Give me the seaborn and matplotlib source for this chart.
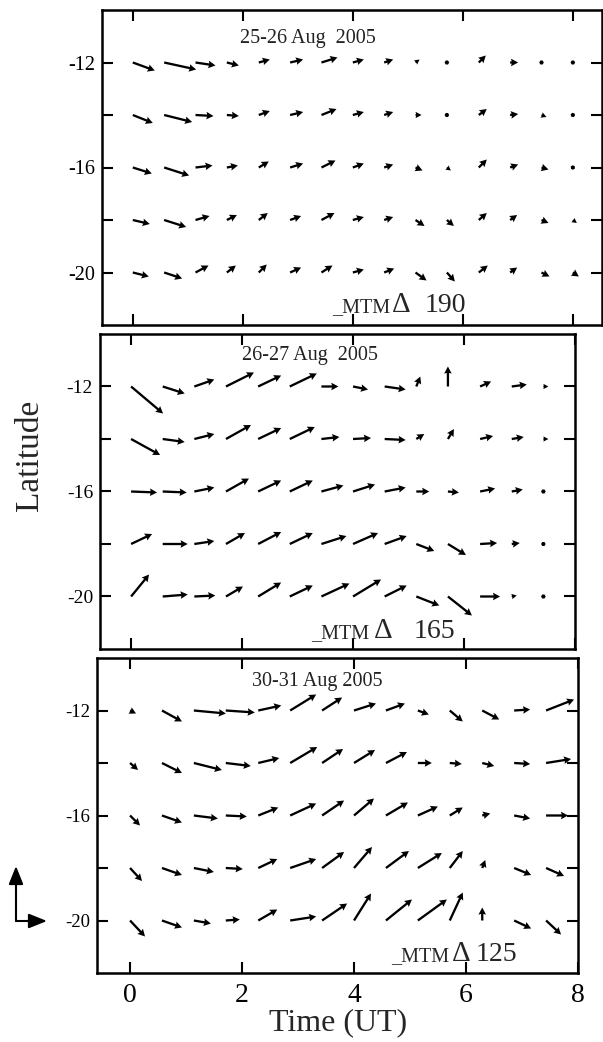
import matplotlib
matplotlib.use("Agg")
import matplotlib.pyplot as plt
from matplotlib.patches import FancyArrowPatch
import seaborn as sns
import numpy as np

sns.set_theme(style="ticks")
plt.rcParams["font.family"] = ["Liberation Serif", "DejaVu Serif"]

# Grid of latitudes (rows) and universal times (columns)
latitudes = [-12, -14, -16, -18, -20]
time_a = [0.0, 0.57, 1.14, 1.71, 2.29, 2.86, 3.43, 4.0, 4.57, 5.14, 5.71, 6.29, 6.86, 7.43, 8.0]
time_b = [0.0, 0.57, 1.14, 1.71, 2.29, 2.86, 3.43, 4.0, 4.57, 5.14, 5.71, 6.29, 6.86, 7.43]

# 25-26 Aug 2005: zonal (u) and meridional (v) components, one list per latitude
u_25 = [
    [22, 32, 20, 12, 11, 13, 16, 11, 9, 4, 1.5, 7, 8, 4, 3],
    [20, 28, 18, 12, 11, 13, 15, 11, 9, 6, 1, 8, 8, 5, 4],
    [19, 25, 17, 11, 10, 13, 14, 11, 9, 7, 4, 8, 8, 7, 4],
    [17, 22, 14, 10, 9, 11, 13, 11, 9, 9, 7, 8, 7, 7, 4],
    [16, 18, 13, 9, 8, 11, 11, 11, 10, 11, 8, 9, 7, 8, 6],
]
v_25 = [
    [-8, -7, -3, -3, 3, 3, 5, 3, 3, 3, 0, 7, 0, 0, 0],
    [-8, -7, -1, -1, 4, 3, 6, 3, 3, 0, 0, 6, 1, -2, -1],
    [-6, -8, 2, 2, 6, 4, 7, 4, 3, -3, -3, 8, 3, -2, -2],
    [-4, -7, 4, 5, 7, 4, 7, 3, 3, -6, -6, 7, 5, -3, -3],
    [-4, -6, 7, 7, 8, 5, 7, 3, 4, -8, -9, 7, 5, -4, -4],
]

# 26-27 Aug 2005
u_26 = [
    [32, 22, 20, 28, 23, 27, 17, 15, 21, 4, 0, 11, 15, 5],
    [29, 22, 20, 25, 23, 25, 18, 18, 21, 8, 6, 13, 12, 5],
    [26, 24, 20, 23, 23, 23, 22, 22, 21, 13, 11, 15, 11, 4],
    [21, 25, 20, 19, 23, 23, 25, 25, 22, 18, 18, 17, 8, 3],
    [18, 25, 21, 17, 23, 23, 28, 28, 22, 23, 24, 20, 5, 3],
]
v_26 = [
    [-27, -7, 7, 14, 11, 13, 0, -3, -3, 10, 20, 5, 2, 0],
    [-16, -3, 5, 14, 11, 12, 2, 1, -1, 5, 10, 3, 2, 0],
    [-1, -1, 4, 13, 11, 11, 6, 7, 4, 0, -1, 3, 2, 0],
    [10, 0, 3, 11, 12, 11, 8, 11, 8, -7, -11, 1, 1, 0],
    [22, 2, 1, 10, 14, 11, 13, 17, 11, -9, -19, 0, 1, 0],
]

# 30-31 Aug 2005
u_30 = [
    [6, 20, 32, 29, 23, 26, 20, 22, 19, 11, 13, 17, 16, 28],
    [8, 20, 28, 25, 21, 27, 21, 21, 21, 14, 12, 12, 16, 25],
    [10, 20, 24, 21, 20, 26, 22, 20, 22, 20, 13, 8, 16, 22],
    [12, 20, 20, 17, 19, 26, 22, 18, 23, 24, 13, 3, 17, 18],
    [15, 20, 17, 14, 19, 26, 25, 17, 26, 29, 13, 0, 17, 15],
]
v_30 = [
    [-3, -11, -3, -2, 5, 16, 13, 7, 7, -4, -11, -9, 1, 11],
    [-7, -10, -7, -3, 5, 16, 14, 13, 11, 0, -1, -3, -1, 4],
    [-10, -7, -3, -1, 8, 12, 15, 17, 13, 9, 8, 2, -3, 0],
    [-13, -7, -4, -1, 9, 9, 16, 21, 17, 15, 17, 8, -7, -8],
    [-16, -7, -3, 1, 11, 4, 17, 27, 21, 21, 28, 13, -8, -14],
]

nights = ["25-26 Aug  2005", "26-27 Aug  2005", "30-31 Aug 2005"]
mtm_values = ["190", "165", "125"]

W, H = 603, 1042
fig = plt.figure(figsize=(W / 100, H / 100), dpi=100)

panels = [
    dict(rect=[102 / W, 1 - 325 / H, 500 / W, 315 / H], xlim=(-0.56, 8.53),
         t=time_a, u=u_25, v=v_25, title_xy=(1.95, -11.24),
         mtm_x=(3.62, 4.71, 5.31), mtm_y=-21.52, ytick_fs=14.5),
    dict(rect=[100 / W, 1 - 649 / H, 475 / W, 315 / H], xlim=(-0.56, 7.97),
         t=time_b, u=u_26, v=v_26, title_xy=(1.99, -11.0),
         mtm_x=(3.24, 4.37, 5.09), mtm_y=-21.6, ytick_fs=14),
    dict(rect=[97 / W, 1 - 973 / H, 481 / W, 315 / H], xlim=(-0.59, 8.0),
         t=time_b, u=u_30, v=v_30, title_xy=(2.17, -11.05),
         mtm_x=(4.66, 5.74, 6.17), mtm_y=-21.56, ytick_fs=13.5),
]

for i, p in enumerate(panels):
    ax = fig.add_axes(p["rect"])
    ax.set_facecolor("white")
    T, LAT = np.meshgrid(p["t"], latitudes)
    ax.quiver(T, LAT, np.array(p["u"], float), np.array(p["v"], float),
              angles="uv", scale_units="dots", scale=1.0, units="dots",
              width=2.3, headwidth=3.3, headlength=3.1, headaxislength=2.8,
              minshaft=1.0, minlength=2.0,
              pivot="tail", color="black", zorder=3)
    ax.set_xlim(*p["xlim"])
    ax.set_ylim(-22, -10)
    ax.set_xticks([0, 2, 4, 6, 8])
    ax.set_yticks([-20, -18, -16, -14, -12])
    ax.set_yticklabels(["-20", "", "-16", "", "-12"])
    ax.tick_params(direction="in", length=8, width=1.5, top=True, right=True,
                   colors="black", labelsize=p["ytick_fs"], pad=5)
    for sp in ax.spines.values():
        sp.set_linewidth(1.8)
        sp.set_color("black")
    if i < 2:
        ax.set_xticklabels([])
    else:
        ax.set_xticklabels(["0", "2", "4", "6", "8"])
        ax.tick_params(axis="x", labelsize=20, pad=7)
    ax.text(p["title_xy"][0], p["title_xy"][1], nights[i], fontsize=14.5,
            ha="left", va="baseline", color="#222222")
    mx = p["mtm_x"]
    ax.text(mx[0], p["mtm_y"], "_MTM", fontsize=14.5, ha="left", va="baseline")
    ax.text(mx[1], p["mtm_y"], "\u0394", fontsize=21, ha="left", va="baseline")
    ax.text(mx[2], p["mtm_y"], mtm_values[i], fontsize=20, ha="left", va="baseline")

fig.text(30 / W, 1 - 455 / H, "Latitude", rotation=90, ha="center", va="center",
         fontsize=24)
fig.text(338 / W, 1 - 1023 / H, "Time (UT)", ha="center", va="center", fontsize=23)

# direction key: eastward and northward arrows
key = dict(arrowstyle="-|>,head_length=0.55,head_width=0.22", color="black",
           lw=1.5, shrinkA=0, shrinkB=0, mutation_scale=20)
fig.add_artist(FancyArrowPatch((16, H - 921), (16, H - 866), transform=None, **key))
fig.add_artist(FancyArrowPatch((16, H - 921), (47, H - 921), transform=None, **key))

fig.savefig("out.png", dpi=100, facecolor="white")
